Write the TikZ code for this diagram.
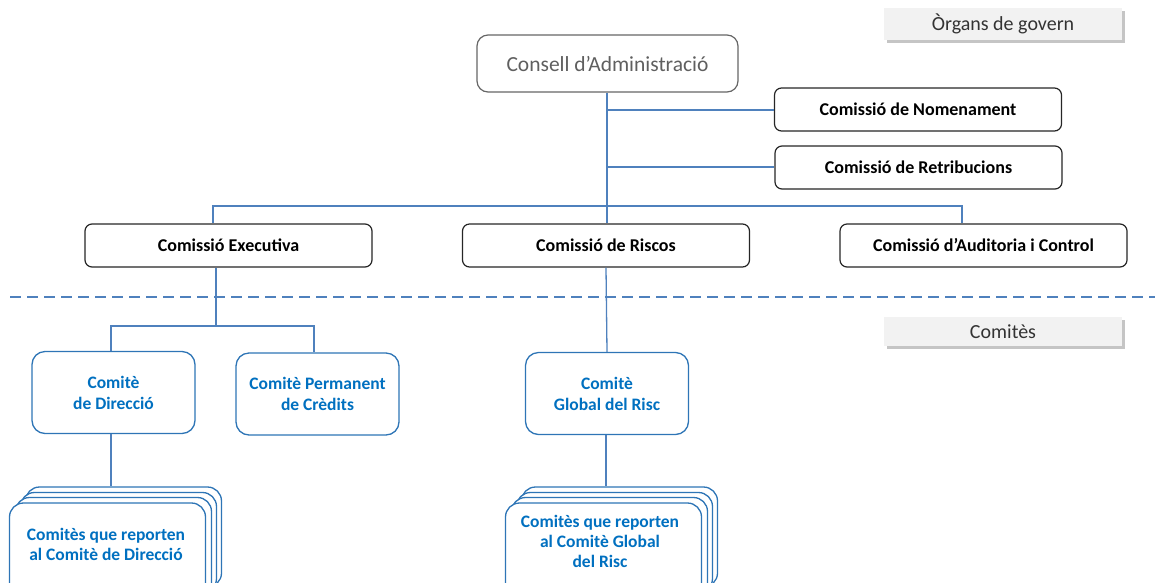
\documentclass[tikz,border=0pt]{standalone}
\usepackage{fontspec}
\setmainfont{Carlito}
\usetikzlibrary{shadows}
\definecolor{linkc}{RGB}{79,129,189}
\definecolor{bluec}{RGB}{0,112,192}
\definecolor{boxb}{RGB}{46,117,182}
\definecolor{grayt}{RGB}{95,95,95}
\definecolor{labfill}{RGB}{242,242,242}
\begin{document}
\begin{tikzpicture}[x=1pt,y=-1pt,
  comm/.style={draw=black!85,line width=1.2pt,rounded corners=7pt,fill=white,minimum width=287pt,minimum height=43pt,font=\bfseries\fontsize{18}{20}\selectfont,inner sep=0pt},
  top/.style={draw=black!60,line width=1.2pt,rounded corners=11pt,fill=white,minimum width=261pt,minimum height=57pt,font=\fontsize{21.5}{24}\selectfont,text=grayt,inner sep=0pt},
  blu/.style={draw=boxb,line width=1.3pt,rounded corners=13pt,fill=white,minimum width=163pt,minimum height=82pt,font=\bfseries\fontsize{17.5}{21}\selectfont,text=bluec,align=center,inner sep=0pt},
  stk/.style={draw=boxb,line width=1.3pt,rounded corners=14pt,fill=white,minimum width=196pt,minimum height=100pt,inner sep=0pt},
  stxt/.style={font=\bfseries\fontsize{17.5}{20}\selectfont,text=bluec,align=center},
  lab/.style={fill=labfill,minimum width=238pt,inner sep=0pt,font=\fontsize{20}{22}\selectfont,text=black!80,drop shadow={shadow xshift=3pt,shadow yshift=-3pt,fill=black!45}},
  link/.style={draw=linkc,line width=1.3pt}]
\useasboundingbox (0,0) rectangle (1161,582);
\clip (0,0) rectangle (1161,582);

% labels
\node[lab,minimum height=32pt] (og) at (1003,24) {Òrgans de govern};
\node[lab,minimum height=29pt] (cm) at (1003,331.5) {Comitès};

% top
\node[top] (ca) at (607.5,63.5) {Consell d’Administració};
\node[comm] (cn) at (918,109.5) {Comissió de Nomenament};
\node[comm] (cr) at (918.5,167.5) {Comissió de Retribucions};
\node[comm] (ce) at (228.5,245.5) {Comissió Executiva};
\node[comm] (cri) at (606,245.5) {Comissió de Riscos};
\node[comm] (cac) at (983.5,245.5) {Comissió d’Auditoria i Control};

\coordinate (t1) at (607,110);
\coordinate (t2) at (607,167);
\coordinate (hb) at (607,206);
\coordinate (hl) at (213,206);
\coordinate (hr) at (962,206);
\draw[link] (ca.south -| hb) -- (hb);
\draw[link] (t1) -- (cn.west |- t1);
\draw[link] (t2) -- (cr.west |- t2);
\draw[link] (hl |- ce.north) -- (hl) -- (hr) -- (hr |- cac.north);
\draw[link] (hb) -- (hb |- cri.north);

% dashed separator
\coordinate (d1) at (10,297);
\coordinate (d2) at (1155,297);
\draw[draw=linkc,line width=2.4pt,dash pattern=on 11pt off 6pt] (d1) -- (d2);

% committees
\node[blu] (cd) at (113.5,392.5) {Comitè\\de Direcció};
\node[blu] (cp) at (317.5,394) {Comitè Permanent\\de Crèdits};
\node[blu] (cg) at (607,393.5) {Comitè\\Global del Risc};

\coordinate (ex) at (216,326);
\coordinate (exl) at (111,326);
\coordinate (exr) at (314,326);
\draw[link] (ce.south -| ex) -- (ex);
\draw[link] (exl |- cd.north) -- (exl) -- (exr) -- (exr |- cp.north);
\draw[link] (cri.south) -- (cg.north);

% stacks left
\node[stk] (l4) at (123.5,537) {};
\node[stk] (l3) at (118.5,542.5) {};
\node[stk] (l2) at (113.5,547.5) {};
\node[stk] (l1) at (107.5,553) {};
\node[stxt] at (106,544) {Comitès que reporten\\al Comitè de Direcció};
\draw[link] (cd.south -| exl) -- (exl |- l4.north);

% stacks right
\node[stk] (r4) at (619.5,537) {};
\node[stk] (r3) at (614.5,542.5) {};
\node[stk] (r2) at (609.5,547.5) {};
\node[stk] (r1) at (603.5,553) {};
\node[stxt] at (600,541) {Comitès que reporten\\al Comitè Global\\del Risc};
\coordinate (rr) at (606,435);
\draw[link] (rr) -- (rr |- r4.north);
\end{tikzpicture}
\end{document}
